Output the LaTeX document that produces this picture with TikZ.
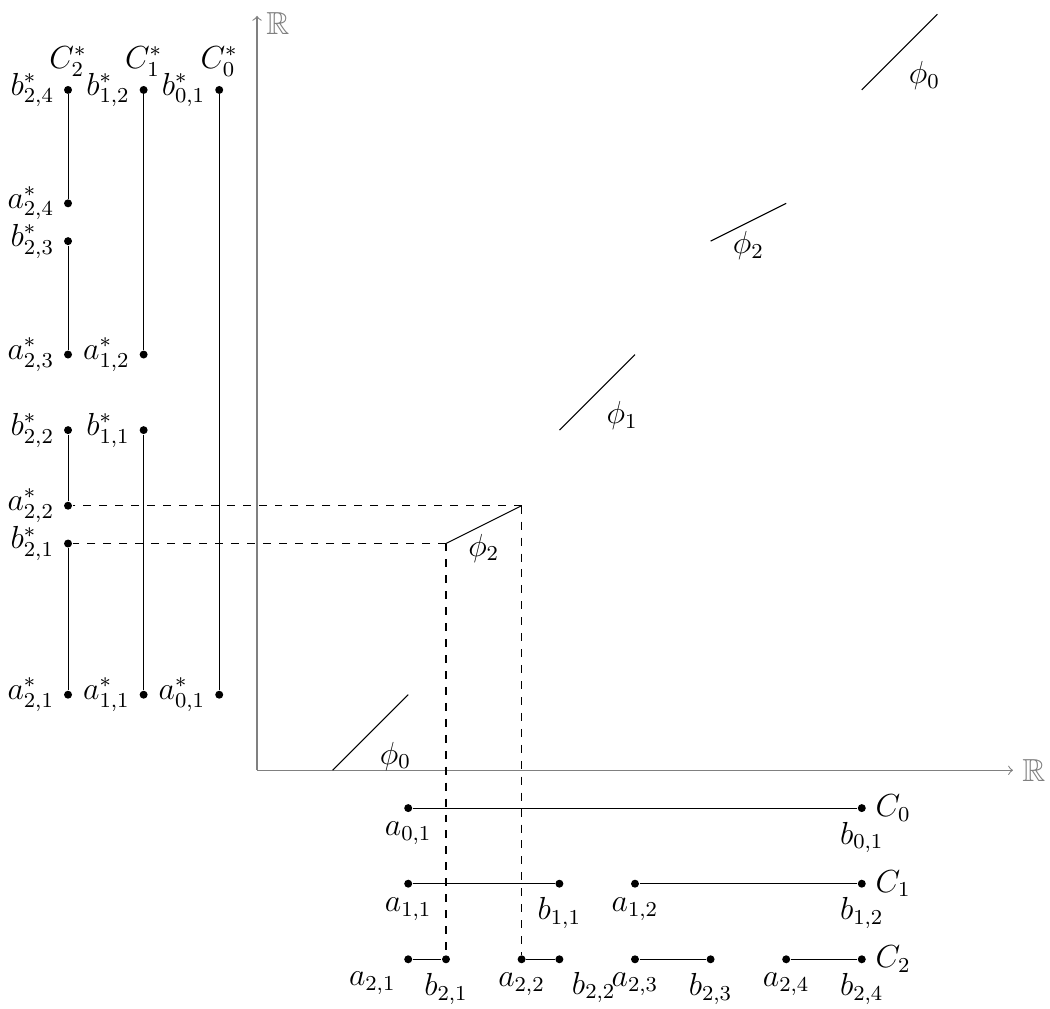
\documentclass[tikz,border=0pt]{standalone}
\usepackage{amsmath,amssymb}
\usetikzlibrary{positioning}

\begin{document}
\begin{tikzpicture}[
      font=\large,
      dot/.style={circle, fill, inner sep=0pt, minimum size=3pt},
      axis/.style={->, gray},
      guide/.style={dashed},
]
      \useasboundingbox (-3.40,-3.15) rectangle (10.49,10.19);

      % Axes
      \coordinate (O) at (0,0);
      \coordinate (xend) at (10,0);
      \coordinate (yend) at (0,9.98);
      \draw[axis] (O) -- (xend) node[right] (xr) {$\mathbb{R}$};
      \draw[axis] (O) -- (yend) node[right, yshift=-3pt] (yr) {$\mathbb{R}$};

      % Pieces of phi
      \coordinate (f0a) at (1,0);     \coordinate (f0b) at (2,1);
      \coordinate (f2a) at (2.5,3);   \coordinate (f2b) at (3.5,3.5);
      \coordinate (f1a) at (4,4.5);   \coordinate (f1b) at (5,5.5);
      \coordinate (g2a) at (6,7);     \coordinate (g2b) at (7,7.5);
      \coordinate (g0a) at (8,9);     \coordinate (g0b) at (9,10);
      \draw (f0a) -- node[below right] (lf0) {$\phi_0$} (f0b);
      \draw (f2a) -- node[below] (lf2) {$\phi_2$} (f2b);
      \draw (f1a) -- node[below right] (lf1) {$\phi_1$} (f1b);
      \draw (g2a) -- node[below] (lg2) {$\phi_2$} (g2b);
      \draw (g0a) -- node[below right] (lg0) {$\phi_0$} (g0b);

      % Domain intervals
      \node[dot, label=below:$a_{0,1}$] (a01) at (2,-0.5) {};
      \node[dot, label=below:$b_{0,1}$, label=right:$C_0$] (b01) at (8,-0.5) {};
      \node[dot, label=below:$a_{1,1}$] (a11) at (2,-1.5) {};
      \node[dot, label=below:$b_{1,1}$] (b11) at (4,-1.5) {};
      \node[dot, label=below:$a_{1,2}$] (a12) at (5,-1.5) {};
      \node[dot, label=below:$b_{1,2}$, label=right:$C_1$] (b12) at (8,-1.5) {};
      \node[dot, label=below left:$a_{2,1}$] (a21) at (2,-2.5) {};
      \node[dot, label=below:$b_{2,1}$] (b21) at (2.5,-2.5) {};
      \node[dot, label=below:$a_{2,2}$] (a22) at (3.5,-2.5) {};
      \node[dot, label=below right:$b_{2,2}$] (b22) at (4,-2.5) {};
      \node[dot, label=below:$a_{2,3}$] (a23) at (5,-2.5) {};
      \node[dot, label=below:$b_{2,3}$] (b23) at (6,-2.5) {};
      \node[dot, label=below:$a_{2,4}$] (a24) at (7,-2.5) {};
      \node[dot, label=below:$b_{2,4}$, label=right:$C_2$] (b24) at (8,-2.5) {};

      % Image intervals
      \node[dot, label=left:$a^*_{0,1}$] (as01) at (-0.5,1) {};
      \node[dot, label=left:$b^*_{0,1}$, label=above:$C^*_0$] (bs01) at (-0.5,9) {};
      \node[dot, label=left:$a^*_{1,1}$] (as11) at (-1.5,1) {};
      \node[dot, label=left:$b^*_{1,1}$] (bs11) at (-1.5,4.5) {};
      \node[dot, label=left:$a^*_{1,2}$] (as12) at (-1.5,5.5) {};
      \node[dot, label=left:$b^*_{1,2}$, label=above:$C^*_1$] (bs12) at (-1.5,9) {};
      \node[dot, label=left:$a^*_{2,1}$] (as21) at (-2.5,1) {};
      \node[dot, label=left:$b^*_{2,1}$] (bs21) at (-2.5,3) {};
      \node[dot, label=left:$a^*_{2,2}$] (as22) at (-2.5,3.5) {};
      \node[dot, label=left:$b^*_{2,2}$] (bs22) at (-2.5,4.5) {};
      \node[dot, label=left:$a^*_{2,3}$] (as23) at (-2.5,5.5) {};
      \node[dot, label=left:$b^*_{2,3}$] (bs23) at (-2.5,7) {};
      \node[dot, label=left:$a^*_{2,4}$] (as24) at (-2.5,7.5) {};
      \node[dot, label=left:$b^*_{2,4}$, label=above:$C^*_2$] (bs24) at (-2.5,9) {};

      % Guide lines
      \draw[guide] (f2a) -- (bs21);
      \draw[guide] (f2b) -- (as22);
      \draw[guide] (f2a) -- (b21);
      \draw[guide] (f2b) -- (a22);

      % Domain
      \draw (a01) -- (b01);
      \draw (a11) -- (b11);
      \draw (a12) -- (b12);
      \draw (a21) -- (b21);
      \draw (a22) -- (b22);
      \draw (a23) -- (b23);
      \draw (a24) -- (b24);

      % Image
      \draw (as01) -- (bs01);
      \draw (as11) -- (bs11);
      \draw (as12) -- (bs12);
      \draw (as21) -- (bs21);
      \draw (as22) -- (bs22);
      \draw (as23) -- (bs23);
      \draw (as24) -- (bs24);
\end{tikzpicture}
\end{document}
